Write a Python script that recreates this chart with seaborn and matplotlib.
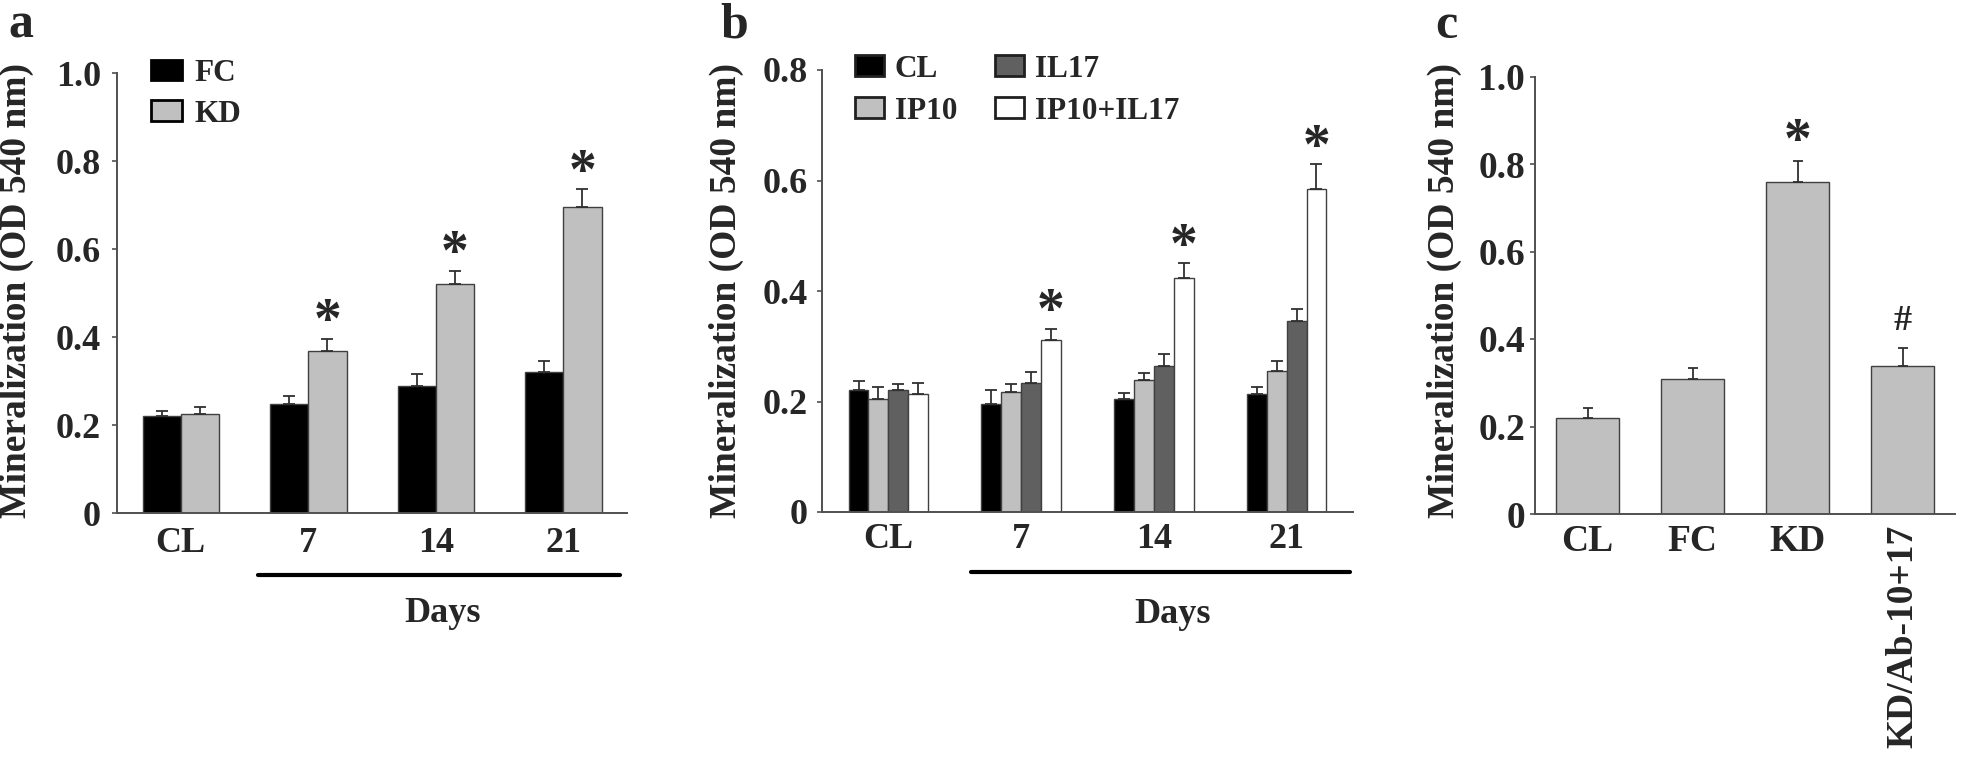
import numpy as np
import pandas as pd
import seaborn as sns
import matplotlib.pyplot as plt
from matplotlib.patches import Patch
from matplotlib.container import BarContainer

# ---- panel a: FC vs KD over days
days = ["CL", "7", "14", "21"]
groups_a = ["FC", "KD"]
fc_mean = [0.220, 0.247, 0.289, 0.321]
fc_err = [0.012, 0.020, 0.028, 0.024]
kd_mean = [0.225, 0.368, 0.520, 0.696]
kd_err = [0.015, 0.028, 0.031, 0.040]
marks_a = ["", "*", "*", "*"]

# ---- panel b: cytokine treatments over days
groups_b = ["CL", "IP10", "IL17", "IP10+IL17"]
cl_mean = [0.220, 0.196, 0.204, 0.214]
cl_err = [0.018, 0.024, 0.011, 0.013]
ip10_mean = [0.204, 0.217, 0.239, 0.255]
ip10_err = [0.022, 0.015, 0.012, 0.019]
il17_mean = [0.220, 0.234, 0.264, 0.346]
il17_err = [0.012, 0.019, 0.022, 0.022]
combo_mean = [0.213, 0.311, 0.423, 0.585]
combo_err = [0.021, 0.021, 0.027, 0.045]
marks_b = ["", "*", "*", "*"]

# ---- panel c: antibody rescue
groups_c = ["CL", "FC", "KD", "KD/Ab-10+17"]
c_mean = [0.220, 0.309, 0.759, 0.339]
c_err = [0.023, 0.025, 0.048, 0.041]
marks_c = ["", "", "*", "#"]

W, H = 1961, 761
sns.set_style("ticks")
plt.rcParams['font.family'] = ['Liberation Serif', 'DejaVu Serif']
plt.rcParams['font.weight'] = 'bold'

fig = plt.figure(figsize=(W / 100, H / 100), dpi=100)


def px_axes(l, t, r, b):  # axes box from pixel edges
    return fig.add_axes([l / W, 1 - b / H, (r - l) / W, (b - t) / H])


def style_axes(ax, yticks, ylabels, ymax, tsize, ypad, xpad):
    ax.set_xlim(-0.5, 3.5)
    ax.set_ylim(0, ymax)
    ax.set_yticks(yticks)
    ax.set_yticklabels(ylabels)
    ax.set_xlabel("")
    ax.set_ylabel("")
    for s in ["top", "right"]:
        ax.spines[s].set_visible(False)
    for s in ["left", "bottom"]:
        ax.spines[s].set_color("#505050")
        ax.spines[s].set_linewidth(1.4)
    ax.tick_params(axis="x", length=0, pad=xpad, labelsize=tsize)
    ax.tick_params(axis="y", length=3.5, width=1.2, color="#505050", pad=ypad, labelsize=tsize)


def add_errors(ax, errs, marks, capsize, mark_off):
    conts = [c for c in ax.containers if isinstance(c, BarContainer)]
    for gi, cont in enumerate(conts):
        for di, bar in enumerate(cont.patches):
            x = bar.get_x() + bar.get_width() / 2
            h = bar.get_height()
            e = errs[gi][di]
            ax.errorbar(x, h, yerr=[[0], [e]], fmt="none", ecolor="#303030",
                        elinewidth=1.3, capsize=capsize, capthick=1.3, zorder=3)
            if gi == len(conts) - 1 and marks[di]:
                m = marks[di]
                fs = 40 if m == "*" else 26
                off = mark_off if m == "*" else 12.5
                ax.annotate(m, (x, h + e), xytext=(0, off), textcoords="offset points",
                            ha="center", va="baseline", fontsize=fs, fontweight="bold")


# ---------------- panel a
ax_a = px_axes(117, 73, 627, 513)
df_a = pd.DataFrame({"day": days * 2,
                     "group": np.repeat(groups_a, len(days)),
                     "value": fc_mean + kd_mean})
sns.barplot(data=df_a, x="day", y="value", hue="group", order=days, hue_order=groups_a,
            palette=["#000000", "#c0c0c0"], width=0.6, saturation=1, errorbar=None,
            edgecolor="#404040", linewidth=1, legend=False, ax=ax_a)
add_errors(ax_a, [fc_err, kd_err], marks_a, 4.5, 1)
style_axes(ax_a, [0, 0.2, 0.4, 0.6, 0.8, 1.0], ["0", "0.2", "0.4", "0.6", "0.8", "1.0"],
           1.0, 26, 8, 10)
ax_a.legend(handles=[Patch(facecolor="#000000", edgecolor="black", linewidth=2, label="FC"),
                     Patch(facecolor="#c0c0c0", edgecolor="black", linewidth=2, label="KD")],
            loc="upper left", bbox_to_anchor=(0.067, 1.032), frameon=False, fontsize=22.5,
            handlelength=1.0, handleheight=0.64, handletextpad=0.4, labelspacing=0.38,
            borderpad=0, borderaxespad=0)
ax_a.plot([0.276, 0.987], [-0.141, -0.141], transform=ax_a.transAxes, clip_on=False,
          color="black", lw=3)
ax_a.text(0.639, -0.248, "Days", transform=ax_a.transAxes, ha="center", va="baseline",
          fontsize=26)

# ---------------- panel b
ax_b = px_axes(822, 70, 1353, 512)
df_b = pd.DataFrame({"day": days * 4,
                     "group": np.repeat(groups_b, len(days)),
                     "value": cl_mean + ip10_mean + il17_mean + combo_mean})
sns.barplot(data=df_b, x="day", y="value", hue="group", order=days, hue_order=groups_b,
            palette=["#000000", "#c0c0c0", "#606060", "#ffffff"], width=0.6, saturation=1,
            errorbar=None, edgecolor="#404040", linewidth=1, legend=False, ax=ax_b)
add_errors(ax_b, [cl_err, ip10_err, il17_err, combo_err], marks_b, 4.5, 1)
style_axes(ax_b, [0, 0.2, 0.4, 0.6, 0.8], ["0", "0.2", "0.4", "0.6", "0.8"],
           0.8, 26, 6.5, 8)
leg_cols = ["#000000", "#c0c0c0", "#606060", "#ffffff"]
ax_b.legend(handles=[Patch(facecolor=c, edgecolor="#202020", linewidth=2, label=g)
                     for c, g in zip(leg_cols, groups_b)],
            ncol=2, loc="upper left", bbox_to_anchor=(0.062, 1.035), frameon=False,
            fontsize=22.5, handlelength=0.93, handleheight=0.64, handletextpad=0.35,
            labelspacing=0.42, columnspacing=1.2, borderpad=0, borderaxespad=0)
ax_b.plot([0.281, 0.994], [-0.136, -0.136], transform=ax_b.transAxes, clip_on=False,
          color="black", lw=3)
ax_b.text(0.661, -0.251, "Days", transform=ax_b.transAxes, ha="center", va="baseline",
          fontsize=26)

# ---------------- panel c
ax_c = px_axes(1535, 76.5, 1955, 514)
sns.barplot(x=groups_c, y=c_mean, color="#c0c0c0", width=0.6, saturation=1, errorbar=None,
            edgecolor="#404040", linewidth=1, ax=ax_c)
add_errors(ax_c, [c_err], marks_c, 3.8, 3)
style_axes(ax_c, [0, 0.2, 0.4, 0.6, 0.8, 1.0], ["0", "0.2", "0.4", "0.6", "0.8", "1.0"],
           1.0, 27, 3.6, 7.5)
lab = ax_c.get_xticklabels()[-1]
lab.set_rotation(90)
lab.set_va("top")

# y labels and panel letters
ylab = "Mineralization (OD 540 nm)"
for xc in [16, 726, 1444]:
    fig.text(xc / W, 1 - 291 / H, ylab, rotation=90, ha="center", va="center", fontsize=27)
for letter, xl in [("a", 8), ("b", 720), ("c", 1435)]:
    fig.text(xl / W, 1 - 38 / H, letter, ha="left", va="baseline", fontsize=36)

fig.savefig("out.png", dpi=100)
